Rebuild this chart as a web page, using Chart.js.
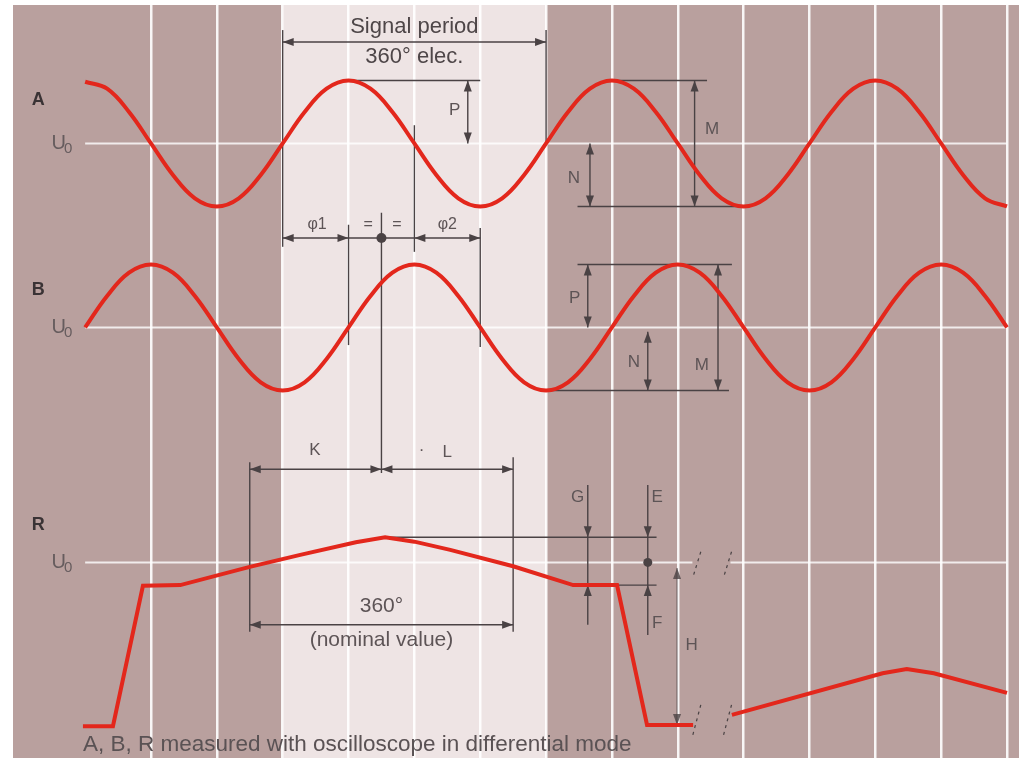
<!DOCTYPE html>
<html>
<head>
<meta charset="utf-8">
<script src="https://cdn.jsdelivr.net/npm/chart.js@4.4.1/dist/chart.umd.min.js"></script>
<style>
  html, body { margin: 0; padding: 0; background: #fff; }
  canvas { display: block; }
</style>
</head>
<body>
<canvas id="scope" width="1019" height="758"></canvas>
<script>
// x in electrical degrees (1 screen division = 90 deg), y in units of signal amplitude
const X_RANGE = [-98.6, 1276.4];
const Y_RANGE = [-9.754, 2.198];
const gridAngles = [90, 180, 270, 360, 450, 540, 630, 720, 810, 900, 990, 1080, 1170, 1260];
const bandAngles = [270, 630];

// U0 level of each trace
const traceNames = ["A", "B", "R"];
const u0Levels = [0, -2.92, -6.65];

// A and B read every 30 deg
const sineAngles = [0, 30, 60, 90, 120, 150, 180, 210, 240, 270, 300, 330,
                    360, 390, 420, 450, 480, 510, 540, 570, 600, 630, 660, 690,
                    720, 750, 780, 810, 840, 870, 900, 930, 960, 990, 1020, 1050,
                    1080, 1110, 1140, 1170, 1200, 1230, 1260];
const seriesA = [0.98, 0.87, 0.5, 0, -0.5, -0.87, -1, -0.87, -0.5, 0, 0.5, 0.87,
                 1, 0.87, 0.5, 0, -0.5, -0.87, -1, -0.87, -0.5, 0, 0.5, 0.87,
                 1, 0.87, 0.5, 0, -0.5, -0.87, -1, -0.87, -0.5, 0, 0.5, 0.87,
                 1, 0.87, 0.5, 0, -0.5, -0.87, -1];
const seriesB = [0, 0.5, 0.87, 1, 0.87, 0.5, 0, -0.5, -0.87, -1, -0.87, -0.5,
                 0, 0.5, 0.87, 1, 0.87, 0.5, 0, -0.5, -0.87, -1, -0.87, -0.5,
                 0, 0.5, 0.87, 1, 0.87, 0.5, 0, -0.5, -0.87, -1, -0.87, -0.5,
                 0, 0.5, 0.87, 1, 0.87, 0.5, 0];

// reference mark signal R (null = break in the trace)
const rAngles = [-3, 38, 79, 130, 225, 294, 370, 410, 450, 499, 585, 667, 727, 768, 831, 857, 884, 1090, 1123, 1160, 1260];
const seriesR = [-2.60, -2.60, -0.37, -0.36, -0.07, 0.12, 0.32, 0.40, 0.33, 0.20, -0.06, -0.36, -0.36,
                 -2.58, -2.58, null, -2.42, -1.76, -1.69, -1.76, -2.07];

const PANEL = "#b9a09e";
const BAND = "#eee4e4";
const RED = "#e3271c";
const INK = "#4a4244";
const LABEL = "#5d5456";
const FONT = "'Liberation Sans', Arial, sans-serif";

function toPoints(xs, vs, off) {
    return xs.map((x, i) => ({ x: x, y: vs[i] === null ? null : vs[i] + off }));
}

/* ================= DRAW HELPERS ================= */
function head(ctx, tx, ty, dx, dy) {
    const len = 11, w = 4;
    const bx = tx - dx * len, by = ty - dy * len;
    ctx.beginPath();
    ctx.moveTo(tx, ty);
    ctx.lineTo(bx - dy * w, by + dx * w);
    ctx.lineTo(bx + dy * w, by - dx * w);
    ctx.closePath();
    ctx.fill();
}

function seg(ctx, x1, y1, x2, y2) {
    ctx.beginPath();
    ctx.moveTo(x1, y1);
    ctx.lineTo(x2, y2);
    ctx.stroke();
}

const scopeDecor = {
    id: "scopeDecor",
    beforeDraw(chart) {
        const { ctx, chartArea: a, scales: { x } } = chart;
        ctx.save();
        ctx.fillStyle = "#fff";
        ctx.fillRect(0, 0, chart.width, chart.height);
        ctx.fillStyle = PANEL;
        ctx.fillRect(a.left, a.top, a.right - a.left, a.bottom - a.top);
        const b0 = x.getPixelForValue(bandAngles[0]);
        const b1 = x.getPixelForValue(bandAngles[1]);
        ctx.fillStyle = BAND;
        ctx.fillRect(b0, a.top, b1 - b0, a.bottom - a.top);
        ctx.restore();
    },
    beforeDatasetsDraw(chart) {
        const { ctx, scales: { x, y } } = chart;
        const X = v => x.getPixelForValue(v);
        const Y = v => y.getPixelForValue(v);
        const uA = u0Levels[0], uB = u0Levels[1], uR = u0Levels[2];

        ctx.save();

        // U0 reference lines
        ctx.strokeStyle = "rgba(255,255,255,0.8)";
        ctx.lineWidth = 2;
        seg(ctx, X(0), Y(uA), X(1260), Y(uA));
        seg(ctx, X(0), Y(uB), X(1260), Y(uB));
        seg(ctx, X(0), Y(uR), X(830), Y(uR));
        seg(ctx, X(882), Y(uR), X(1260), Y(uR));

        ctx.strokeStyle = INK;
        ctx.fillStyle = INK;
        ctx.lineWidth = 1.4;

        const vline = (d, u1, u2) => seg(ctx, X(d), Y(u1), X(d), Y(u2));
        const hline = (u, d1, d2) => seg(ctx, X(d1), Y(u), X(d2), Y(u));
        const dimH = (u, d1, d2) => {
            hline(u, d1, d2);
            head(ctx, X(d1), Y(u), -1, 0);
            head(ctx, X(d2), Y(u), 1, 0);
        };
        const dimV = (d, u1, u2) => {
            vline(d, u1, u2);
            head(ctx, X(d), Y(u1), 0, -1);
            head(ctx, X(d), Y(u2), 0, 1);
        };

        // signal period
        vline(270, 1.80, -1.64);
        vline(630, 1.80, -0.02);
        dimH(1.61, 270, 630);

        // A: P, N, M
        hline(uA + 1, 360, 540);
        dimV(523, uA + 1, uA);
        hline(uA - 1, 673, 900);
        dimV(690, uA, uA - 1);
        hline(uA + 1, 720, 850);
        dimV(833, uA + 1, uA - 1);

        // B: P, N, M
        hline(uB + 1, 673, 884);
        dimV(687, uB + 1, uB);
        hline(uB - 1, 630, 880);
        dimV(769, uB - 0.07, uB - 1);
        dimV(865, uB + 1, uB - 1);

        // phase lines
        vline(360, -1.29, -3.20);
        vline(405, -1.10, -5.23);
        vline(450, 0.29, -1.72);
        vline(540, -1.34, -3.23);
        dimH(-1.50, 270, 360);
        hline(-1.50, 360, 450);
        dimH(-1.50, 450, 540);
        ctx.beginPath();
        ctx.arc(X(405), Y(-1.50), 5, 0, Math.PI * 2);
        ctx.fill();

        // K, L and nominal 360
        vline(225, -5.06, -7.75);
        vline(585, -4.98, -7.75);
        dimH(-5.17, 225, 405);
        dimH(-5.17, 405, 585);
        dimH(-7.64, 225, 585);

        // R: G, E, F
        hline(uR + 0.40, 415, 781);
        hline(uR - 0.36, 667, 781);
        vline(687, -5.42, -7.64);
        head(ctx, X(687), Y(uR + 0.40), 0, 1);
        head(ctx, X(687), Y(uR - 0.36), 0, -1);
        vline(769, -5.42, -7.80);
        head(ctx, X(769), Y(uR + 0.40), 0, 1);
        head(ctx, X(769), Y(uR - 0.36), 0, -1);
        ctx.beginPath();
        ctx.arc(X(769), Y(uR), 4.5, 0, Math.PI * 2);
        ctx.fill();

        // H
        ctx.strokeStyle = "rgba(75,66,68,0.55)";
        ctx.fillStyle = "rgba(75,66,68,0.8)";
        dimV(809, uR - 0.09, uR - 2.58);

        // break marks
        ctx.strokeStyle = INK;
        ctx.setLineDash([3, 4]);
        ctx.lineWidth = 1.2;
        [836, 878].forEach(d => {
            seg(ctx, X(d) + 4, Y(-6.48), X(d) - 4, Y(-6.89));
            seg(ctx, X(d) + 4, Y(-8.91), X(d) - 4, Y(-9.39));
        });
        ctx.setLineDash([]);

        // texts
        const text = (s, d, u, size, color, align, weight) => {
            ctx.font = (weight || "normal") + " " + size + "px " + FONT;
            ctx.fillStyle = color;
            ctx.textAlign = align || "center";
            ctx.textBaseline = "middle";
            ctx.fillText(s, X(d), Y(u));
        };
        text("Signal period", 450, 1.85, 22, "#4e4648");
        text("360° elec.", 450, 1.37, 22, "#4e4648");
        text("P", 505, 0.53, 17, LABEL);
        text("N", 668, -0.55, 17, LABEL);
        text("M", 857, 0.22, 17, LABEL);
        text("P", 669, -2.45, 17, LABEL);
        text("N", 750, -3.48, 17, LABEL);
        text("M", 843, -3.52, 17, LABEL);
        text("φ1", 317, -1.29, 16, LABEL);
        text("=", 387, -1.29, 16, LABEL);
        text("=", 426, -1.29, 16, LABEL);
        text("φ2", 495, -1.29, 16, LABEL);
        text("K", 314, -4.87, 17, LABEL);
        text("·", 460, -4.87, 17, LABEL);
        text("L", 495, -4.90, 17, LABEL);
        text("360°", 405, -7.34, 21, LABEL);
        text("(nominal value)", 405, -7.88, 21, LABEL);
        text("G", 673, -5.61, 17, LABEL);
        text("E", 782, -5.61, 17, LABEL);
        text("F", 782, -7.61, 17, LABEL);
        text("H", 829, -7.96, 17, LABEL);

        traceNames.forEach((n, i) => {
            const labelUnits = [0.69, -2.33, -6.05];
            text(n, -64, uA + labelUnits[i], 18, "#3a3335", "center", "bold");
            text("U", -46, u0Levels[i], 20, "#665c5e", "left");
            text("0", -29, u0Levels[i] - 0.08, 15, "#665c5e", "left");
        });

        text("A, B, R measured with oscilloscope in differential mode", -3, -9.55, 22.5, "#5a5254", "left");
        ctx.restore();
    }
};

/* ================= CHART ================= */
const traceStyle = {
    borderColor: RED,
    borderWidth: 4,
    pointRadius: 0,
    fill: false,
    spanGaps: false
};

new Chart(document.getElementById("scope"), {
    type: "line",
    data: {
        datasets: [
            Object.assign({ label: "A", data: toPoints(sineAngles, seriesA, u0Levels[0]), tension: 0.4 }, traceStyle),
            Object.assign({ label: "B", data: toPoints(sineAngles, seriesB, u0Levels[1]), tension: 0.4 }, traceStyle),
            Object.assign({ label: "R", data: toPoints(rAngles, seriesR, u0Levels[2]), tension: 0 }, traceStyle)
        ]
    },
    options: {
        responsive: false,
        animation: false,
        layout: { padding: { left: 13, top: 5, right: 0, bottom: 0 } },
        plugins: { legend: { display: false }, tooltip: { enabled: false } },
        scales: {
            x: {
                type: "linear",
                min: X_RANGE[0],
                max: X_RANGE[1],
                afterBuildTicks: s => { s.ticks = gridAngles.map(v => ({ value: v })); },
                ticks: { display: false },
                border: { display: false },
                grid: { drawTicks: false, lineWidth: 2.5, color: "rgba(255,255,255,0.9)" }
            },
            y: { display: false, min: Y_RANGE[0], max: Y_RANGE[1] }
        }
    },
    plugins: [scopeDecor]
});
</script>
</body>
</html>
